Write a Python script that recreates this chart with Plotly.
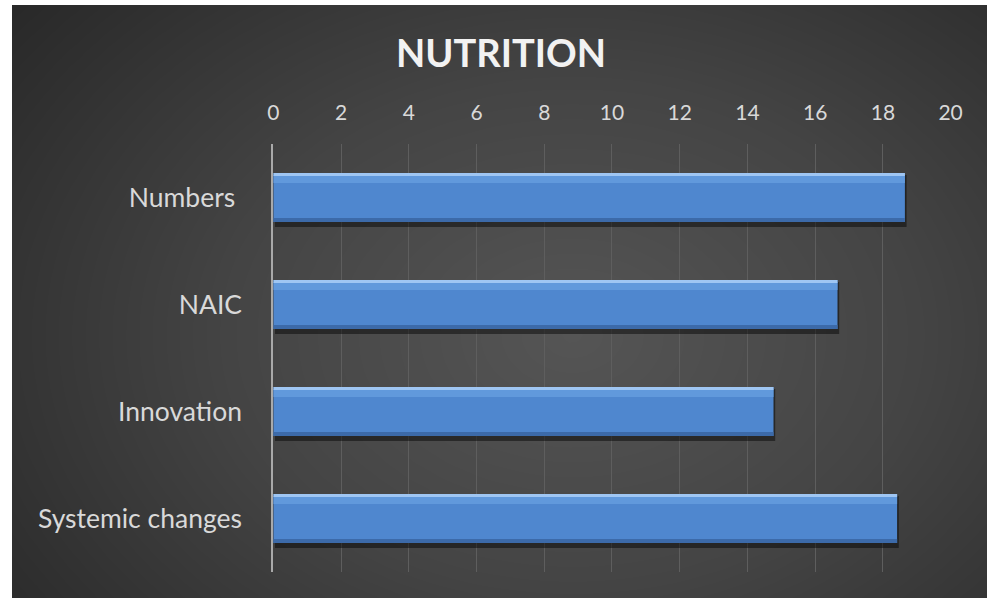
import numpy as np
import plotly.graph_objects as go

# Chart data
categories = ["Numbers", "NAIC", "Innovation", "Systemic changes"]
category_labels = ["Numbers\u00a0", "NAIC", "Innovation", "Systemic changes"]
values = [18.65, 16.66, 14.77, 18.42]
tick_values = list(range(0, 21, 2))
tick_labels = [str(v) for v in tick_values]
title_text = "NUTRITION"

W, H = 987, 598
FONT = "Lato"

# Geometry of the plotting region (pixels)
plot_left, plot_right = 273.3, 951.3
plot_top, plot_bottom = 144, 572
bg_left, bg_top = 12, 5

fig = go.Figure()

# Dark radial-gradient backdrop on its own hidden axes
nx, ny = 120, 80
gx = np.linspace(0, 1, nx)
gy = np.linspace(0, 1, ny)
X, Y = np.meshgrid(gx, gy)
bw, bh = W - bg_left, H - bg_top
px = X * bw
py = (1 - Y) * bh
cx, cy = 560, 330
r = np.sqrt(((px - cx) / 640) ** 2 + ((py - cy) / 470) ** 2)
fig.add_trace(go.Heatmap(
    x=gx, y=gy, z=np.clip(r, 0, 1.2),
    colorscale=[[0, "#555555"], [0.45, "#444444"], [0.8, "#303030"], [1, "#252525"]],
    zmin=0, zmax=1.2, zsmooth="best", showscale=False, hoverinfo="skip",
    xaxis="x", yaxis="y",
))

# Bars with a bevelled look: shadow, body, highlight strips, dark lower edge
half = 0.23
px_unit = (plot_bottom - plot_top) / len(categories)
def u(p):
    return p / px_unit

common = dict(y=categories, x=values, orientation="h", xaxis="x2", yaxis="y2",
              hoverinfo="skip", showlegend=False)

fig.add_trace(go.Bar(**common, base=0.05, width=2 * half + u(3), offset=-half + u(2),
                     marker=dict(color="rgba(0,0,0,0.45)", line=dict(width=0))))
fig.add_trace(go.Bar(**common, width=2 * half, offset=-half,
                     marker=dict(color="#4f87cf", line=dict(width=0))))
fig.add_trace(go.Bar(**common, width=u(8), offset=-half + u(2),
                     marker=dict(color="#6199dc", line=dict(width=0))))
fig.add_trace(go.Bar(**common, width=u(3), offset=-half,
                     marker=dict(color="#9fc6f3", line=dict(width=0))))
fig.add_trace(go.Bar(**common, width=u(4), offset=half - u(4),
                     marker=dict(color="#3c6aa9", line=dict(width=0))))

# Title
fig.add_annotation(text="<b>" + title_text + "</b>", x=501.5 / W, y=1 - 51.5 / H,
                   xref="paper", yref="paper", showarrow=False, xanchor="center", yanchor="middle",
                   font=dict(family=FONT, size=38, color="#f2f2f2"))

fig.update_layout(
    width=W, height=H,
    margin=dict(l=0, r=0, t=0, b=0, pad=0),
    paper_bgcolor="white",
    plot_bgcolor="rgba(0,0,0,0)",
    barmode="overlay",
    xaxis=dict(domain=[bg_left / W, 1], range=[0, 1], visible=False,
               fixedrange=True, automargin=False),
    yaxis=dict(domain=[0, 1 - bg_top / H], range=[0, 1], visible=False,
               fixedrange=True, automargin=False),
    xaxis2=dict(
        domain=[plot_left / W, plot_right / W], anchor="y2", side="top",
        range=[0, 20.02], tickvals=tick_values, ticktext=tick_labels,
        showgrid=True, gridcolor="#5e5e5e", gridwidth=1, zeroline=False,
        showline=False, ticks="", ticklabelstandoff=19, automargin=False,
        tickfont=dict(family=FONT, size=21, color="#d9d9d9"),
    ),
    yaxis2=dict(
        domain=[1 - plot_bottom / H, 1 - plot_top / H], anchor="x2",
        categoryorder="array", categoryarray=categories, autorange="reversed",
        tickvals=categories, ticktext=category_labels,
        showgrid=False, zeroline=False, showline=True, linecolor="#a9a9a9", linewidth=2,
        ticks="", ticklabelstandoff=24, automargin=False,
        tickfont=dict(family=FONT, size=26.5, color="#d9d9d9"),
    ),
)

fig.write_html("out.html")
